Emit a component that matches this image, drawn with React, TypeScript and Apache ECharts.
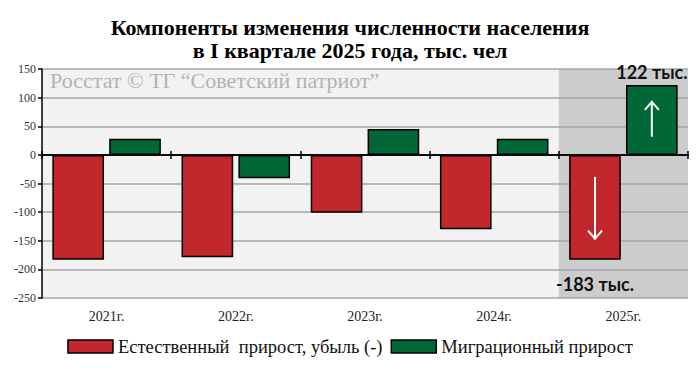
import React, { useEffect, useRef } from "react";
import * as echarts from "echarts";

const categories = ["2021г.", "2022г.", "2023г.", "2024г.", "2025г."];
const naturalChange = [-183, -179, -101, -130, -183];
const migration = [28, -41, 45, 28, 122];
const highlightBand = [null, null, null, null, 1];
const seriesNames = ["Естественный  прирост, убыль (-)", "Миграционный прирост"];
const yMin = -250;
const yMax = 150;
const yStep = 50;
const titleText = "Компоненты изменения численности населения\nв I квартале 2025 года, тыс. чел";
const watermark = "Росстат © ТГ “Советский патриот”";
const upLabel = "122 тыс.";
const downLabel = "-183 тыс.";

const SERIF = "Liberation Serif";
const SANS = "Lato";

export default function App() {
  const ref = useRef<HTMLDivElement>(null);

  useEffect(() => {
    document.body.style.margin = "0";
    if (!ref.current) return;
    const chart = echarts.init(ref.current, undefined, { renderer: "svg" });

    const last = categories.length - 1;
    const natData = naturalChange.map((v, i) =>
      i === last
        ? {
            value: v,
            label: {
              show: true,
              position: "bottom",
              distance: 15,
              formatter: downLabel,
              fontFamily: SANS,
              fontWeight: "bold",
              fontSize: 18,
              color: "#111",
            },
          }
        : v
    );
    const migData = migration.map((v, i) =>
      i === last
        ? {
            value: v,
            label: {
              show: true,
              position: "top",
              distance: 4,
              formatter: upLabel,
              fontFamily: SANS,
              fontWeight: "bold",
              fontSize: 18,
              color: "#111",
            },
          }
        : v
    );

    const catAxisBase = {
      type: "category",
      data: categories,
      gridIndex: 0,
    };

    const watermarkEl = {
      type: "text",
      left: 50,
      top: 69,
      z: 3,
      silent: true,
      style: { text: watermark, fontFamily: SERIF, fontSize: 22, fill: "#b3b3b3" },
    };

    chart.setOption({
      animation: false,
      backgroundColor: "#ffffff",
      title: {
        text: titleText,
        left: "center",
        top: 11,
        textStyle: {
          fontFamily: SERIF,
          fontWeight: "bold",
          fontSize: 22,
          lineHeight: 23,
          color: "#000",
        },
      },
      legend: {
        data: seriesNames,
        bottom: 10,
        left: "center",
        itemWidth: 45,
        itemHeight: 13,
        itemGap: 8,
        icon: "rect",
        textStyle: { fontFamily: SERIF, fontSize: 18.5, color: "#111" },
        itemStyle: { borderColor: "#000", borderWidth: 1.5 },
      },
      grid: {
        left: 42,
        right: 12,
        top: 69,
        bottom: 73,
        show: true,
        backgroundColor: "#f2f2f2",
        borderWidth: 0,
      },
      xAxis: [
        {
          ...catAxisBase,
          position: "bottom",
          axisLine: { show: false, onZero: false },
          axisTick: { show: false },
          axisLabel: { fontFamily: SERIF, fontSize: 14, color: "#222", margin: 11 },
          splitLine: { show: false },
        },
        {
          ...catAxisBase,
          z: 4,
          axisLine: { show: true, onZero: true, onZeroAxisIndex: 0, lineStyle: { color: "#000", width: 1.5 } },
          axisTick: { show: true, interval: 0, length: 4, inside: false, lineStyle: { color: "#000", width: 1.5 } },
          axisLabel: { show: false },
          splitLine: { show: false },
        },
        {
          ...catAxisBase,
          z: 4,
          axisLine: { show: true, onZero: true, onZeroAxisIndex: 0, lineStyle: { color: "#000", width: 1.5 } },
          axisTick: { show: true, interval: 0, length: 4, inside: true, lineStyle: { color: "#000", width: 1.5 } },
          axisLabel: { show: false },
          splitLine: { show: false },
        },
        {
          ...catAxisBase,
          show: false,
        },
      ],
      yAxis: [
        {
          type: "value",
          min: yMin,
          max: yMax,
          interval: yStep,
          z: 2,
          axisLine: { show: true, lineStyle: { color: "#000", width: 1.5 } },
          axisTick: { show: true, length: 4, lineStyle: { color: "#000", width: 1.5 } },
          axisLabel: { fontFamily: SERIF, fontSize: 12, color: "#333", margin: 6 },
          splitLine: { show: true, lineStyle: { color: "#a6a6a6", width: 1.5 } },
        },
        {
          type: "value",
          min: 0,
          max: 1,
          show: false,
          splitLine: { show: false },
        },
      ],
      graphic: [watermarkEl],
      series: [
        {
          name: "highlight",
          type: "bar",
          xAxisIndex: 3,
          yAxisIndex: 1,
          data: highlightBand,
          barWidth: "100%",
          z: 1,
          silent: true,
          itemStyle: { color: "#cccccc" },
        },
        {
          name: seriesNames[0],
          type: "bar",
          xAxisIndex: 0,
          yAxisIndex: 0,
          data: natData,
          barWidth: "40%",
          barGap: "10%",
          z: 3,
          itemStyle: { color: "#c1272d", borderColor: "#000", borderWidth: 1.5 },
        },
        {
          name: seriesNames[1],
          type: "bar",
          xAxisIndex: 0,
          yAxisIndex: 0,
          data: migData,
          barWidth: "40%",
          barGap: "10%",
          z: 3,
          itemStyle: { color: "#006837", borderColor: "#000", borderWidth: 1.5 },
        },
      ],
    });

    // white arrows inside the 2025 bars, placed from the bars' computed layout
    try {
      const model = (chart as any).getModel();
      const getRect = (sIdx: number, i: number) => {
        const l = model.getSeriesByIndex(sIdx).getData().getItemLayout(i);
        const top = Math.min(l.y, l.y + l.height);
        const h = Math.abs(l.height);
        return { cx: l.x + l.width / 2, top, h };
      };
      const g = getRect(2, last);
      const r = getRect(1, last);
      const arrow = (cx: number, tail: number, tip: number) => {
        const dir = tip < tail ? 1 : -1;
        return [
          {
            type: "line",
            z: 10,
            silent: true,
            shape: { x1: cx, y1: tail, x2: cx, y2: tip },
            style: { stroke: "#fff", lineWidth: 2 },
          },
          {
            type: "polyline",
            z: 10,
            silent: true,
            shape: { points: [[cx - 7, tip + dir * 8], [cx, tip], [cx + 7, tip + dir * 8]] },
            style: { stroke: "#fff", lineWidth: 2, fill: "none" },
          },
        ];
      };
      const els = [
        ...arrow(g.cx, g.top + g.h * 0.74, g.top + g.h * 0.24),
        ...arrow(r.cx, r.top + r.h * 0.21, r.top + r.h * 0.8),
      ];
      chart.setOption({ graphic: [watermarkEl, ...els] });
    } catch (e) {
      // ignore
    }

    return () => chart.dispose();
  }, []);

  return <div ref={ref} style={{ width: 700, height: 371 }} />;
}
